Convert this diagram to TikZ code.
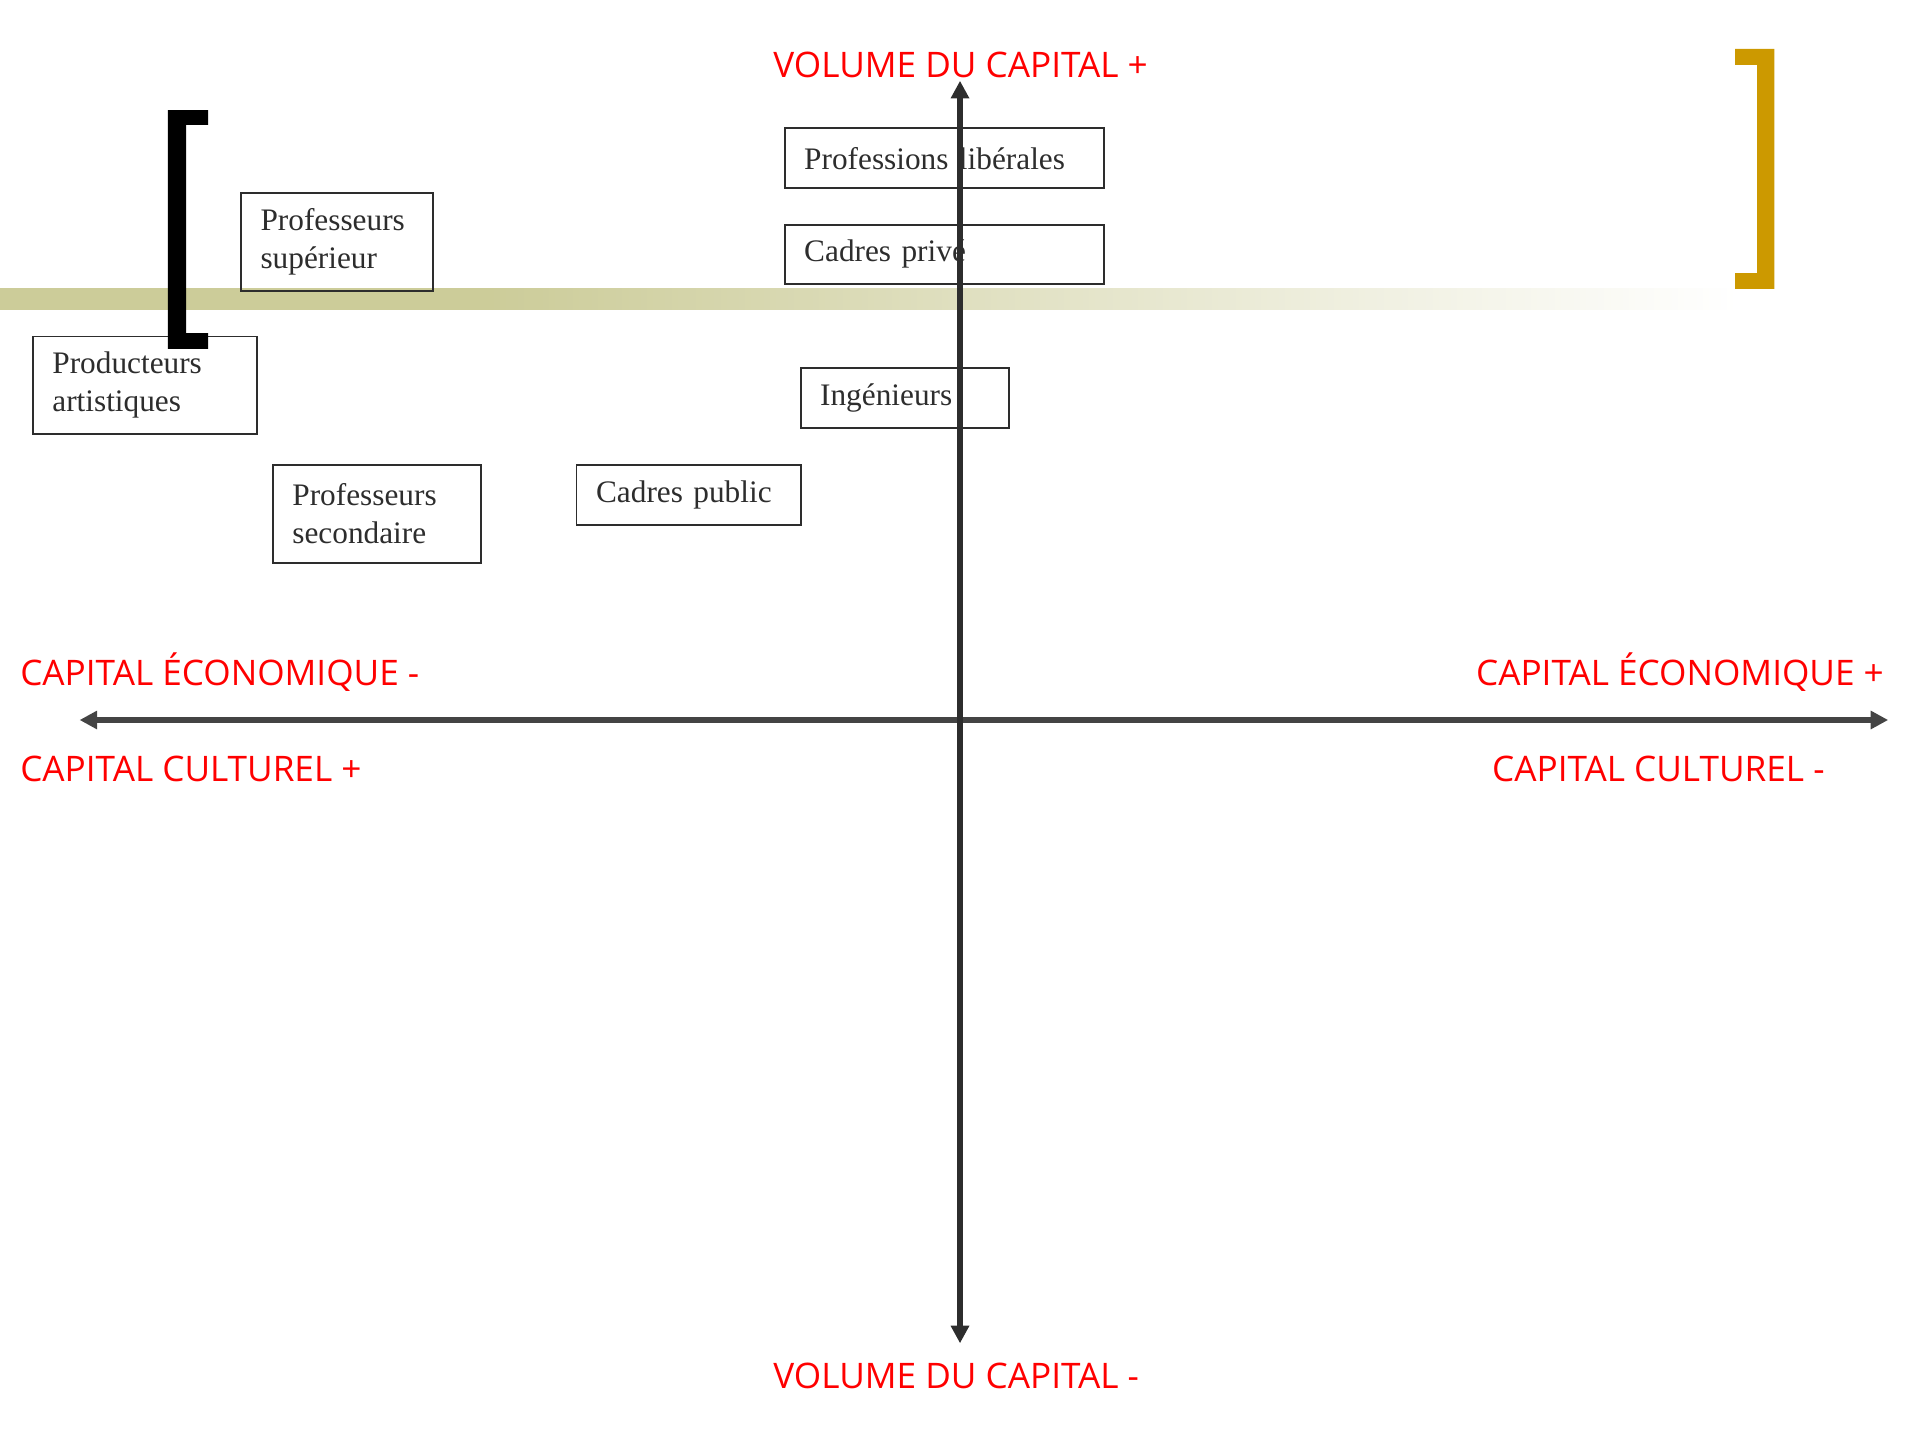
\documentclass[tikz,border=0pt]{standalone}
\usepackage{fontspec}
\setmainfont{Liberation Serif}
\newfontfamily\labelfont{Open Sans}
\usetikzlibrary{arrows.meta}
\newlength\dpx \setlength\dpx{0.012245cm}
\definecolor{bandcol}{RGB}{204,204,153}
\definecolor{goldcol}{RGB}{204,153,0}
\definecolor{ink}{RGB}{45,45,45}
\definecolor{axiscol}{RGB}{45,45,45}
\definecolor{haxiscol}{RGB}{68,68,68}
\pgfdeclarehorizontalshading{bandshade}{100bp}{color(0bp)=(bandcol); color(39bp)=(bandcol); color(75bp)=(white); color(100bp)=(white)}
\tikzset{
 box/.style={draw=ink, line width=0.55pt, text=ink, anchor=north west, align=left,
   inner xsep=16\dpx, inner ysep=0pt, font=\fontsize{8.9}{10.8}\selectfont},
 lbl/.style={text=red, font=\labelfont\fontsize{10}{12}\selectfont, inner sep=0pt},
 axisline/.style={line width=1.8pt,
   {Triangle[length=5pt,width=5pt]}-{Triangle[length=5pt,width=5pt]}}
}
\begin{document}
\begin{tikzpicture}[x=0.012245cm,y=-0.012245cm]
\useasboundingbox (0,0) rectangle (1568,1176);
% band
\shade[shading=bandshade] (0,236) rectangle (1420,253);
% boxes
\node[box, text width=229\dpx, minimum height=49\dpx] (lib) at (640,104) {Professions libérales};
\node[box, text width=229\dpx, minimum height=48\dpx] (prive) at (640,183) {Cadres privé};
\node[box, text width=138\dpx, minimum height=49\dpx] (ing) at (653,300) {Ingénieurs};
\node[box, text width=125\dpx, minimum height=80\dpx] (psup) at (196,157) {Professeurs\\supérieur};
\node[box, text width=151\dpx, minimum height=80\dpx] (prod) at (26,274) {Producteurs\\artistiques};
\node[box, text width=138\dpx, minimum height=80\dpx] (psec) at (222,379) {Professeurs\\secondaire};
\node[box, text width=151\dpx, minimum height=49\dpx] (pub) at (470,379) {Cadres public};
% brackets
\fill[black] (137,90) -- (170,90) -- (170,102) -- (152,102) -- (152,272) -- (170,272) -- (170,285) -- (137,285) -- cycle;
\fill[goldcol] (1449,40) -- (1417,40) -- (1417,53) -- (1435,53) -- (1435,223) -- (1417,223) -- (1417,236) -- (1449,236) -- cycle;
% axes
\coordinate (vt) at (784,66);
\coordinate (vb) at (784,1097);
\coordinate (hl) at (65,588);
\coordinate (hr) at (1542,588);
\draw[axisline, draw=haxiscol, fill=haxiscol] (hl) -- (hr);
\draw[axisline, draw=axiscol, fill=axiscol] (vb) -- (vt);
% labels
\node[lbl, anchor=base west] (vplus) at (631,63) {VOLUME DU CAPITAL +};
\node[lbl, anchor=base west] (vminus) at (631,1134) {VOLUME DU CAPITAL -};
\node[lbl, anchor=base west] (ecominus) at (16,560) {CAPITAL ÉCONOMIQUE -};
\node[lbl, anchor=base east] (ecoplus) at (1539,560) {CAPITAL ÉCONOMIQUE +};
\node[lbl, anchor=base west] (culplus) at (16,638) {CAPITAL CULTUREL +};
\node[lbl, anchor=base west] (culminus) at (1218,638) {CAPITAL CULTUREL -};
\end{tikzpicture}
\end{document}
